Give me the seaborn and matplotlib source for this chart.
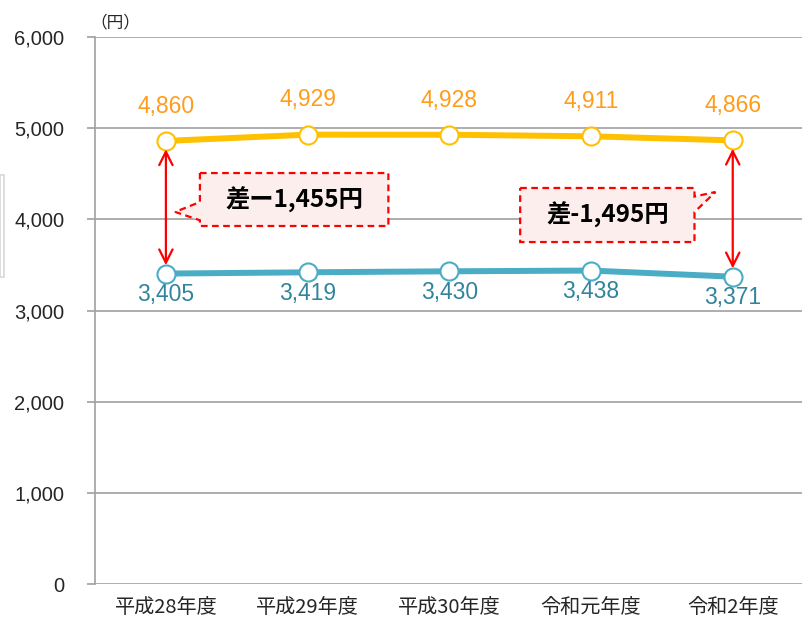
import pandas as pd
import seaborn as sns
import matplotlib.pyplot as plt
from matplotlib.patches import Polygon, Rectangle

years = ['平成28年度', '平成29年度', '平成30年度', '令和元年度', '令和2年度']
upper = [4860, 4929, 4928, 4911, 4866]
lower = [3405, 3419, 3430, 3438, 3371]
yticks = [0, 1000, 2000, 3000, 4000, 5000, 6000]

df = pd.DataFrame({
    'year': years * 2,
    'value': upper + lower,
    'series': ['upper'] * 5 + ['lower'] * 5,
})

line_palette = {'upper': '#FFC000', 'lower': '#4BACC6'}
label_colors = {'upper': '#FF9C1A', 'lower': '#31849B'}

sns.set_theme(style='white')
plt.rcParams['font.family'] = ['Liberation Sans', 'Noto Sans CJK JP', 'DejaVu Sans']

fig = plt.figure(figsize=(8.02, 6.23), dpi=100)
ax = fig.add_axes([0.1185, 0.0626, 0.8835, 0.878])

sns.lineplot(data=df, x='year', y='value', hue='series', palette=line_palette,
             sort=False, linewidth=4.3, marker='o', markersize=13,
             markerfacecolor='white', markeredgewidth=1.5, legend=False,
             zorder=3, ax=ax)
for line, key in zip(ax.lines, ['upper', 'lower']):
    line.set_markeredgecolor(line_palette[key])

ax.set_xlim(-0.5, 4.5)
ax.set_ylim(0, 6000)
ax.set_yticks(yticks)
ax.set_yticklabels([f'{v:,}' for v in yticks], fontsize=14.5)
ax.set_xticks(range(len(years)))
ax.set_xticklabels(years, fontsize=14.5, family=['Noto Sans CJK JP', 'DejaVu Sans'])
ax.set_xticks([i - 0.5 for i in range(len(years) + 1)], minor=True)
ax.tick_params(axis='x', which='major', length=0, pad=9)
ax.tick_params(axis='x', which='minor', length=6, width=1.2, color='#A0A0A0', direction='out')
ax.tick_params(axis='y', length=6, width=1.2, color='#A0A0A0', direction='out', pad=16, left=True)
ax.set_xlabel('')
ax.set_ylabel('')
ax.grid(axis='y', color='#A0A0A0', linewidth=1.2)
ax.set_axisbelow(True)
for side in ['top', 'right', 'bottom']:
    ax.spines[side].set_visible(False)
ax.spines['left'].set_color('#A0A0A0')
ax.spines['left'].set_linewidth(1.2)

# data labels
for i, v in enumerate(upper):
    ax.annotate(f'{v:,}', (i, v), xytext=(0, 25), textcoords='offset points',
                ha='center', va='center', fontsize=16.5, color=label_colors['upper'])
for i, v in enumerate(lower):
    ax.annotate(f'{v:,}', (i, v), xytext=(0, -15), textcoords='offset points',
                ha='center', va='center', fontsize=16.5, color=label_colors['lower'])

# red double arrows between the two series
for i in [0, 4]:
    ax.annotate('', xy=(i, lower[i]), xytext=(i, upper[i]),
                arrowprops=dict(arrowstyle='<->', color='red', lw=1.6,
                                mutation_scale=24, shrinkA=6, shrinkB=6))

# callouts
def callout(x0, x1, y0, y1, tail, tip, text):
    if tip[0] < x0:
        pts = [(x0, y1), (x1, y1), (x1, y0), (x0, y0), (x0, tail[0]), tip, (x0, tail[1])]
    else:
        pts = [(x0, y1), (x1, y1), (x1, tail[1]), tip, (x1, tail[0]), (x1, y0), (x0, y0)]
    ax.add_patch(Polygon(pts, closed=True, facecolor='#FDEEEE', edgecolor='red',
                         linestyle=(0, (3, 2)), linewidth=1.6, zorder=4))
    ax.text((x0 + x1) / 2, (y0 + y1) / 2, text, ha='center', va='center',
            fontsize=17.5, fontweight='bold', color='black',
            family=['Noto Sans CJK JP', 'DejaVu Sans'], zorder=5)

callout(0.24, 1.57, 3927, 4508, (3990, 4190), (0.065, 4081), '差ー1,455円')
callout(2.50, 3.73, 3751, 4344, (4080, 4250), (3.878, 4300), '差-1,495円')

fig.text(90 / 802, 1 - 23 / 623, '（円）', ha='left', va='center', fontsize=12,
         family=['Noto Sans CJK JP', 'DejaVu Sans'])
fig.patches.append(Rectangle((0, 1 - 277 / 623), 4 / 802, 102 / 623, transform=fig.transFigure,
                             facecolor='none', edgecolor='#D8D8D8', linewidth=1.2))

fig.savefig('out.png', dpi=100)
